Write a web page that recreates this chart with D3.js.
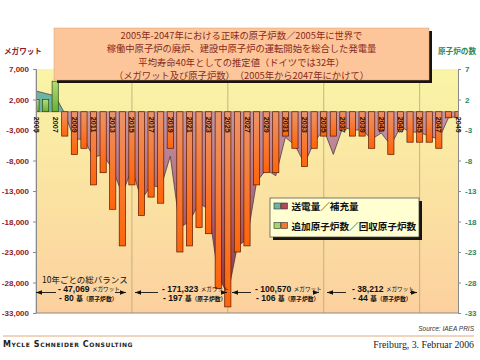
<!DOCTYPE html>
<html><head><meta charset="utf-8">
<script src="https://cdn.jsdelivr.net/npm/d3@7"></script>
<style>body{margin:0;background:#fff;} svg{display:block;}</style>
</head><body>
<svg id="c" width="480" height="360"></svg>
<script>
// ---------- data ----------
const years = [2005,2006,2007,2008,2009,2010,2011,2012,2013,2014,2015,2016,2017,2018,2019,2020,2021,2022,2023,2024,2025,2026,2027,2028,2029,2030,2031,2032,2033,2034,2035,2036,2037,2038,2039,2040,2041,2042,2043,2044,2045,2046,2047,2048,2049];
// net capacity change (MW) – area series, left axis
const megawatts = [3400,3000,2600,-300,-4500,-4500,-7500,-7000,-9500,-13500,-9300,
  -14500,-12000,-12500,-7300,-19000,-18000,-15000,-16000,-27000,-30000,
  -22000,-21000,-11500,-9500,-10500,-4200,-5500,-8500,-5000,-2900,
  -7000,-2500,-3000,-3000,-4500,-3500,-5500,-2500,-3300,-3400,
  -4000,-4500,-1000,-800];
// net change in number of reactors – bar series, right axis
const reactors = [2,2,5,-4,-7,-6,-12,-10,-16,-22,-12,
  -17,-14,-15,-6,-23,-22,-19,-20,-29,-32,
  -23,-22,-12,-10,-10,-4,-6,-9,-6,-4,
  -4,-3,-4,-4,-6,-3,-7,-3,-5,-5,
  -5,-6,-1,-1];
const leftTicks = [7000,2000,-3000,-8000,-13000,-18000,-23000,-28000,-33000];
const rightTicks = [7,2,-3,-8,-13,-18,-23,-28,-33];
const yearLabels = [2005,2007,2009,2011,2013,2015,2017,2019,2021,2023,2025,2027,2029,2031,2033,2035,2037,2039,2041,2043,2045,2047,2049];
const gridYears = [2005,2015,2025,2035,2045];
const titleLines = [
  "2005年-2047年における正味の原子炉数／2005年に世界で",
  "稼働中原子炉の廃炉、建設中原子炉の運転開始を総合した発電量",
  "平均寿命40年としての推定値（ドイツでは32年）",
  "（メガワット及び原子炉数）　（2005年から2047年にかけて）"
];
const leftTitle = "メガワット";
const rightTitle = "原子炉の数";
const legendLabels = ["送電量／補充量", "追加原子炉数／回収原子炉数"];
const balanceTitle = "10年ごとの総バランス";
const balanceMW = ["- 47,069", "- 171,323", "- 100,570", "- 38,212"];
const balanceReactors = ["- 80", "- 197", "- 106", "- 44"];
const mwUnit = "メガワット";
const reactorUnit = "基";
const reactorUnit2 = "（原子炉数）";

// ---------- layout ----------
const L = 36, R = 458, T = 69, B = 313;
const svg = d3.select("#c");
const JP = "'Noto Sans CJK JP','Noto Sans',sans-serif";
const SANS = "'Liberation Sans',Arial,sans-serif";

const x = d3.scalePoint().domain(years).range([L, R]);
const y = d3.scaleLinear().domain([-33000, 7000]).range([B, T]);
const yR = d3.scaleLinear().domain([-33, 7]).range([B, T]);
const fmt = d => d3.format(",")(d).replace("\u2212", "-");

const defs = svg.append("defs");
const bg = defs.append("linearGradient").attr("id","bg").attr("x1",0).attr("y1",0).attr("x2",0).attr("y2",1);
bg.append("stop").attr("offset",0).attr("stop-color","#f9f5a6");
bg.append("stop").attr("offset",1).attr("stop-color","#fcd09e");
const og = defs.append("linearGradient").attr("id","og").attr("x1",0).attr("y1",0).attr("x2",0).attr("y2",1);
og.append("stop").attr("offset",0).attr("stop-color","#ec9468");
og.append("stop").attr("offset",1).attr("stop-color","#ff6408");
const gg = defs.append("linearGradient").attr("id","gg").attr("x1",0).attr("y1",0).attr("x2",0).attr("y2",1);
gg.append("stop").attr("offset",0).attr("stop-color","#b4dc78");
gg.append("stop").attr("offset",1).attr("stop-color","#6cae34");
const mg = defs.append("linearGradient").attr("id","mg").attr("gradientUnits","userSpaceOnUse")
  .attr("x1",0).attr("y1",y(0)).attr("x2",0).attr("y2",B);
mg.append("stop").attr("offset",0).attr("stop-color","#c498a8");
mg.append("stop").attr("offset",0.5).attr("stop-color","#aa6274");
mg.append("stop").attr("offset",1).attr("stop-color","#8c2a30");

defs.append("clipPath").attr("id","plotClip").append("rect")
  .attr("x",L).attr("y",T-30).attr("width",R-L).attr("height",B-T+30);
defs.append("clipPath").attr("id","posClip").append("rect")
  .attr("x",L).attr("y",T-30).attr("width",R-L).attr("height",y(0)-T+30);
defs.append("clipPath").attr("id","negClip").append("rect")
  .attr("x",L).attr("y",y(0)).attr("width",R-L).attr("height",B-y(0));

// plot background
svg.append("rect").attr("x",L).attr("y",T).attr("width",R-L).attr("height",B-T).attr("fill","url(#bg)");

// vertical grid
svg.append("g").selectAll("line").data(gridYears).join("line")
  .attr("x1",d=>x(d)).attr("x2",d=>x(d)).attr("y1",T).attr("y2",B)
  .attr("stroke","#b4a878").attr("stroke-width",0.8);

// area series
const area = d3.area().x((d,i)=>x(years[i])).y0(y(0)).y1(d=>y(d));
const line = d3.line().x((d,i)=>x(years[i])).y(d=>y(d));
svg.append("path").datum(megawatts).attr("d",area).attr("fill","#6cb4a4").attr("clip-path","url(#posClip)");
svg.append("path").datum(megawatts).attr("d",area).attr("fill","url(#mg)").attr("clip-path","url(#negClip)");
svg.append("path").datum(megawatts).attr("d",line).attr("fill","none")
  .attr("stroke","#3a3040").attr("stroke-width",0.7).attr("clip-path","url(#plotClip)");

// bars
const bw = 6.2;
svg.append("g").attr("clip-path","url(#plotClip)").selectAll("rect").data(reactors).join("rect")
  .attr("x",(d,i)=>x(years[i])-bw/2)
  .attr("y",d=>Math.min(yR(d),yR(0)))
  .attr("width",bw)
  .attr("height",d=>Math.abs(yR(d)-yR(0)))
  .attr("fill",d=>d>=0?"url(#gg)":"url(#og)")
  .attr("stroke",d=>d>=0?"#2c4a14":"#5a1800").attr("stroke-width",0.7);

// zero line
svg.append("line").attr("x1",L).attr("x2",R).attr("y1",y(0)).attr("y2",y(0)).attr("stroke","#6a5040").attr("stroke-width",0.5);

// axes
const ax = svg.append("g").attr("transform",`translate(${L},0)`)
  .call(d3.axisLeft(y).tickValues(leftTicks).tickFormat(fmt).tickSize(3).tickPadding(4));
ax.select(".domain").attr("stroke","#8a8a8a");
ax.selectAll(".tick line").attr("stroke","#8a8a8a");
ax.selectAll("text").attr("fill","#8c1a28").attr("font-family",SANS).attr("font-weight","bold").attr("font-size",8);
const axR = svg.append("g").attr("transform",`translate(${R},0)`)
  .call(d3.axisRight(yR).tickValues(rightTicks).tickFormat(fmt).tickSize(3).tickPadding(4));
axR.select(".domain").attr("stroke","#8a8a8a");
axR.selectAll(".tick line").attr("stroke","#8a8a8a");
axR.selectAll("text").attr("fill","#2a8a62").attr("font-family",SANS).attr("font-weight","bold").attr("font-size",8);
svg.append("line").attr("x1",L).attr("x2",R).attr("y1",B).attr("y2",B).attr("stroke","#8a8a8a").attr("stroke-width",1);

// year labels
svg.append("g").selectAll("text").data(yearLabels).join("text")
  .attr("transform",d=>`translate(${x(d)},${y(0)+5}) rotate(90)`)
  .attr("dominant-baseline","central").attr("text-anchor","start")
  .attr("font-family",SANS).attr("font-weight","bold").attr("font-size",7.3).attr("fill","#111")
  .text(d=>d);

// axis titles
svg.append("text").attr("x",4).attr("y",50).attr("dominant-baseline","central")
  .attr("font-family",JP).attr("font-weight","bold").attr("font-size",7.6).attr("fill","#8c1a28").text(leftTitle);
svg.append("text").attr("x",476).attr("y",50).attr("dominant-baseline","central").attr("text-anchor","end")
  .attr("font-family",JP).attr("font-weight","bold").attr("font-size",7.6).attr("fill","#2a8a62").text(rightTitle);

// title box
svg.append("rect").attr("x",57).attr("y",31).attr("width",375).attr("height",52).attr("fill","#1a1410");
svg.append("rect").attr("x",54).attr("y",28).attr("width",375).attr("height",52)
  .attr("fill","#fcc69a").attr("stroke","#e0a070").attr("stroke-width",0.5);
const tY = [34.8, 48.3, 61.8, 75.3];
svg.append("g").selectAll("text").data(titleLines).join("text")
  .attr("x",241.5).attr("y",(d,i)=>tY[i]).attr("text-anchor","middle").attr("dominant-baseline","central")
  .attr("font-family",JP).attr("font-size",9.3).attr("fill","#8a2a1a").text(d=>d);

// legend
svg.append("rect").attr("x",273).attr("y",201).attr("width",149).attr("height",39).attr("fill","#1a1410");
svg.append("rect").attr("x",270).attr("y",198).attr("width",149).attr("height",39)
  .attr("fill","#ffffd2").attr("stroke","#444").attr("stroke-width",0.7);
const legIcons = [["#6cb4a4","#b04a5a"],["#a6d46a","#f27a30"]];
const legY = [206, 225.5];
legendLabels.forEach((lab,i)=>{
  legIcons[i].forEach((c,j)=>{
    svg.append("rect").attr("x",274+j*7).attr("y",legY[i]-3).attr("width",6.5).attr("height",6)
      .attr("fill",c).attr("stroke","#333").attr("stroke-width",0.6);
  });
  svg.append("text").attr("x",291.5).attr("y",legY[i]).attr("dominant-baseline","central")
    .attr("font-family",JP).attr("font-weight","bold").attr("font-size",9.6).attr("fill","#111").text(lab);
});

// balance annotations
svg.append("text").attr("x",42).attr("y",279).attr("dominant-baseline","central")
  .attr("font-family",JP).attr("font-size",8.5).attr("fill","#111").text(balanceTitle);
const groups = [
  {x0:36, x1:126, tx:58, gap0:56, gap1:115},
  {x0:135, x1:227, tx:162, gap0:158, gap1:226},
  {x0:232, x1:319, tx:255, gap0:251, gap1:314},
  {x0:327, x1:417, tx:352, gap0:346, gap1:410}
];
const ay = 292.5;
function arrowHead(px, dir){
  svg.append("path").attr("d",`M${px},${ay} l${-dir*6},-2.2 l0,4.4 Z`).attr("fill","#111");
}
groups.forEach((g,i)=>{
  svg.append("line").attr("x1",g.x0).attr("x2",g.gap0).attr("y1",ay).attr("y2",ay).attr("stroke","#111").attr("stroke-width",0.9);
  svg.append("line").attr("x1",g.gap1).attr("x2",g.x1).attr("y1",ay).attr("y2",ay).attr("stroke","#111").attr("stroke-width",0.9);
  arrowHead(g.x0,-1); arrowHead(g.x1,1);
  const t1 = svg.append("text").attr("x",g.tx).attr("y",288.5).attr("dominant-baseline","central").attr("fill","#111");
  t1.append("tspan").attr("font-family",SANS).attr("font-weight","bold").attr("font-size",8.6).text(balanceMW[i]+" ");
  t1.append("tspan").attr("font-family",JP).attr("font-size",5.6).text(mwUnit);
  const t2 = svg.append("text").attr("x",g.tx+1).attr("y",297.8).attr("dominant-baseline","central").attr("fill","#111");
  t2.append("tspan").attr("font-family",SANS).attr("font-weight","bold").attr("font-size",8.6).text(balanceReactors[i]+" ");
  t2.append("tspan").attr("font-family",JP).attr("font-weight","bold").attr("font-size",6.5).text(reactorUnit);
  t2.append("tspan").attr("font-family",JP).attr("font-weight","bold").attr("font-size",5.8).text(reactorUnit2);
});

// footer
svg.append("text").attr("x",474).attr("y",331).attr("text-anchor","end")
  .attr("font-family",SANS).attr("font-style","italic").attr("font-size",6.5).attr("fill","#333").text("Source: IAEA PRIS");
svg.append("line").attr("x1",3).attr("x2",474).attr("y1",336).attr("y2",336).attr("stroke","#e0a878").attr("stroke-width",1);
svg.append("text").attr("x",3).attr("y",347).attr("font-family","'DejaVu Sans',sans-serif").attr("font-weight","bold")
  .attr("font-size",8).attr("font-variant","small-caps").attr("letter-spacing",0.6).attr("fill","#222").text("Mycle Schneider Consulting");
svg.append("text").attr("x",474).attr("y",347.5).attr("text-anchor","end")
  .attr("font-family","'Liberation Serif','Times New Roman',serif").attr("font-size",9.8).attr("fill","#222").text("Freiburg, 3. Februar 2006");
</script>
</body></html>
